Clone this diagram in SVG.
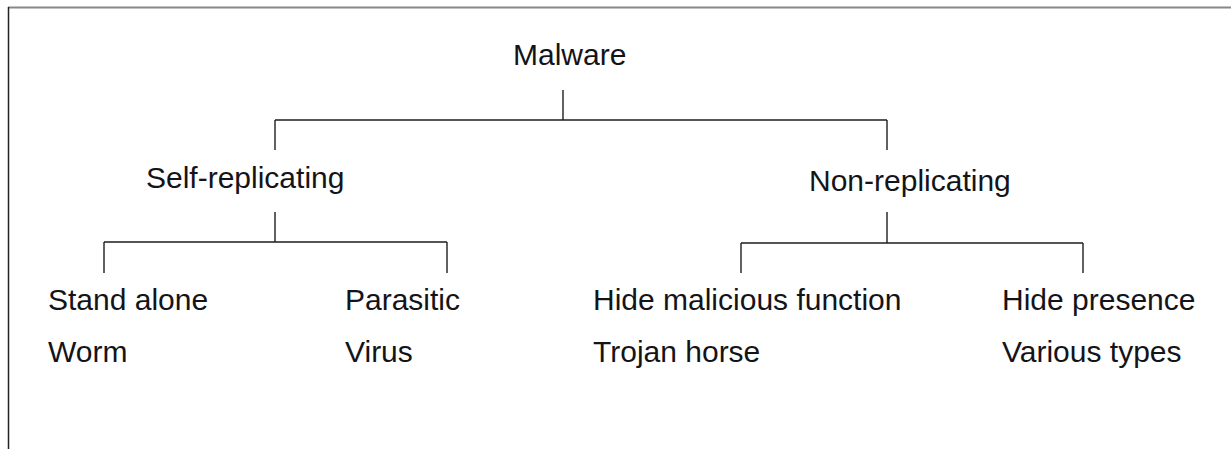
<svg xmlns="http://www.w3.org/2000/svg" width="1231" height="449" viewBox="0 0 1231 449">
<style>
text{font-family:"Liberation Sans",Arial,sans-serif;font-size:30px;fill:#141418}
.c{stroke:#1e1e1e;stroke-width:1.4;fill:none}
</style>
<rect width="1231" height="449" fill="#fff"/>
<g id="frame">
<line x1="8" y1="7.5" x2="1231" y2="7.5" stroke="#888" stroke-width="2"/>
<line x1="8.5" y1="7" x2="8.5" y2="449" stroke="#222" stroke-width="1.5"/>
</g>
<g id="connectors" class="c">
<path d="M563 90V120M275 120H887M275 120V150M887 120V150"/>
<path d="M275 212V242M104 242H447M104 242V273M447 242V273"/>
<path d="M887 212V243M741 243H1083M741 243V273M1083 243V273"/>
</g>
<g id="malware"><text x="513" y="65">Malware</text></g>
<g id="self-replicating"><text x="146" y="188">Self-replicating</text></g>
<g id="non-replicating"><text x="809" y="191">Non-replicating</text></g>
<g id="stand-alone"><text x="48" y="310">Stand alone</text><text x="48" y="362">Worm</text></g>
<g id="parasitic"><text x="345" y="310">Parasitic</text><text x="345" y="362">Virus</text></g>
<g id="hide-malicious"><text x="593" y="310">Hide malicious function</text><text x="593" y="362">Trojan horse</text></g>
<g id="hide-presence"><text x="1002" y="310">Hide presence</text><text x="1002" y="362">Various types</text></g>
</svg>
